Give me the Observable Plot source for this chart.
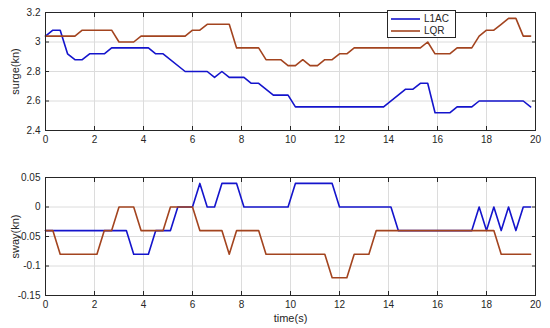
<!DOCTYPE html>
<html><head><meta charset="utf-8">
<script src="https://cdn.jsdelivr.net/npm/d3@7"></script>
<script src="https://cdn.jsdelivr.net/npm/@observablehq/plot@0.6"></script>
<style>
body{margin:0;background:#fff;font-family:"Liberation Sans",Arial,sans-serif;}
#wrap{position:relative;width:550px;height:328px;background:#fff;}
#wrap svg{display:block}
#legend{position:absolute;left:387px;top:10px;width:67px;height:26px;border:1px solid #262626;background:#fff;font-size:10px;color:#262626;}
#legend .row{position:absolute;left:0;height:12px;line-height:12px;white-space:nowrap}
#legend svg{display:inline-block;vertical-align:middle}
</style></head><body><div id="wrap"></div>
<script>
const seriesNames = ["L1AC", "LQR"];
const seriesColors = ["#1414cc", "#a3441f"];

const surgeT_L1AC = [0,0.3,0.6,0.9,1.2,1.5,1.8,2.4,2.7,4.2,4.5,4.8,5.7,6.6,6.9,7.2,7.5,8.1,8.4,8.7,9.3,9.9,10.2,13.8,14.7,15.0,15.3,15.6,15.9,16.5,16.8,17.4,17.7,19.5,19.8];
const surge_L1AC  = [3.04,3.08,3.08,2.92,2.88,2.88,2.92,2.92,2.96,2.96,2.92,2.92,2.80,2.80,2.76,2.80,2.76,2.76,2.72,2.72,2.64,2.64,2.56,2.56,2.68,2.68,2.72,2.72,2.52,2.52,2.56,2.56,2.60,2.60,2.56];
const surgeT_LQR = [0,1.2,1.5,2.7,3.0,3.6,3.9,5.7,6.0,6.3,6.6,7.5,7.8,8.7,9.0,9.6,9.9,10.2,10.5,10.8,11.1,11.4,11.7,12.0,12.3,12.6,15.3,15.6,15.9,16.5,16.8,17.4,17.7,18.0,18.3,18.6,18.9,19.2,19.5,19.8];
const surge_LQR  = [3.04,3.04,3.08,3.08,3.00,3.00,3.04,3.04,3.08,3.08,3.12,3.12,2.96,2.96,2.88,2.88,2.84,2.84,2.88,2.84,2.84,2.88,2.88,2.92,2.92,2.96,2.96,3.00,2.92,2.92,2.96,2.96,3.04,3.08,3.08,3.12,3.16,3.16,3.04,3.04];

const swayT_L1AC = [0,3.3,3.6,4.2,4.5,5.1,5.4,6.0,6.3,6.6,6.9,7.2,7.8,8.1,9.9,10.2,11.7,12.0,14.1,14.4,17.4,17.7,18.0,18.3,18.6,18.9,19.2,19.5,19.8];
const sway_L1AC  = [-0.04,-0.04,-0.08,-0.08,-0.04,-0.04,0,0,0.04,0,0,0.04,0.04,0,0,0.04,0.04,0,0,-0.04,-0.04,0,-0.04,0,-0.04,0,-0.04,0,0];
const swayT_LQR = [0,0.3,0.6,2.1,2.4,2.7,3.0,3.6,3.9,4.8,5.1,6.0,6.3,7.2,7.5,7.8,8.7,9.0,11.4,11.7,12.3,12.6,13.2,13.5,18.3,18.6,19.8];
const sway_LQR  = [-0.04,-0.04,-0.08,-0.08,-0.04,-0.04,0,0,-0.04,-0.04,0,0,-0.04,-0.04,-0.08,-0.04,-0.04,-0.08,-0.08,-0.12,-0.12,-0.08,-0.08,-0.04,-0.04,-0.08,-0.08];

const xTicks = [0,2,4,6,8,10,12,14,16,18,20];
const surgeTicks = [2.4,2.6,2.8,3.0,3.2];
const swayTicks = [-0.15,-0.1,-0.05,0,0.05];

const rows = (ts, vs, s) => ts.map((t, i) => ({t, v: vs[i], s}));
const surgeData = [...rows(surgeT_L1AC, surge_L1AC, "L1AC"), ...rows(surgeT_LQR, surge_LQR, "LQR")];
const swayData = [...rows(swayT_L1AC, sway_L1AC, "L1AC"), ...rows(swayT_LQR, sway_LQR, "LQR")];

const fmt = d => String(+d.toFixed(3));
const axisCol = "#262626";

function panel(data, yDomain, yTicks, yLabel, xLabel, mt, mb) {
  return Plot.plot({
    width: 550, height: 164,
    marginLeft: 45, marginRight: 15, marginTop: mt, marginBottom: mb,
    style: {fontSize: "10px", fontFamily: "'Liberation Sans', Arial, sans-serif", color: axisCol, background: "#fff"},
    x: {domain: [0, 20]},
    y: {domain: yDomain},
    color: {domain: seriesNames, range: seriesColors},
    marks: [
      Plot.gridX(xTicks, {stroke: "#dcdcdc", strokeOpacity: 1}),
      Plot.gridY(yTicks, {stroke: "#dcdcdc", strokeOpacity: 1}),
      Plot.axisX(xTicks, {tickSize: 0, tickPadding: 5, tickFormat: fmt, label: xLabel, labelAnchor: "center", labelArrow: "none", labelOffset: 26, fill: axisCol}),
      Plot.axisX(xTicks, {anchor: "bottom", tickSize: -4, tickFormat: () => "", label: null, stroke: axisCol}),
      Plot.axisX(xTicks, {anchor: "top", tickSize: -4, tickFormat: () => "", label: null, stroke: axisCol}),
      Plot.axisY(yTicks, {tickSize: 0, tickPadding: 5, tickFormat: fmt, label: yLabel, labelAnchor: "center", labelArrow: "none", labelOffset: 34, fill: axisCol}),
      Plot.axisY(yTicks, {anchor: "left", tickSize: -4, tickFormat: () => "", label: null, stroke: axisCol}),
      Plot.axisY(yTicks, {anchor: "right", tickSize: -4, tickFormat: () => "", label: null, stroke: axisCol}),
      Plot.line(data, {x: "t", y: "v", z: "s", stroke: "s", strokeWidth: 1.6, strokeLinejoin: "round"}),
      Plot.frame({stroke: axisCol, strokeWidth: 1})
    ]
  });
}

const wrap = document.getElementById("wrap");
const topPanel = panel(surgeData, [2.4, 3.2], surgeTicks, "surge(kn)", null, 12, 34);
const botPanel = panel(swayData, [-0.15, 0.05], swayTicks, "sway(kn)", "time(s)", 13, 33);
wrap.appendChild(topPanel);
wrap.appendChild(botPanel);
for (const svg of [topPanel, botPanel]) {
  svg.querySelectorAll('[aria-label="y-axis label"] text, [aria-label="x-axis label"] text').forEach(t => t.style.fontSize = "11px");
}

// legend
const leg = document.createElement("div");
leg.id = "legend";
seriesNames.forEach((n, i) => {
  const r = document.createElement("div");
  r.className = "row";
  r.style.top = (2 + i * 12) + "px";
  r.innerHTML = `<svg width="33" height="12"><line x1="3" x2="32" y1="6" y2="6" stroke="${seriesColors[i]}" stroke-width="1.6"/></svg><span style="margin-left:3px">${n}</span>`;
  leg.appendChild(r);
});
wrap.appendChild(leg);
</script>
</body></html>
